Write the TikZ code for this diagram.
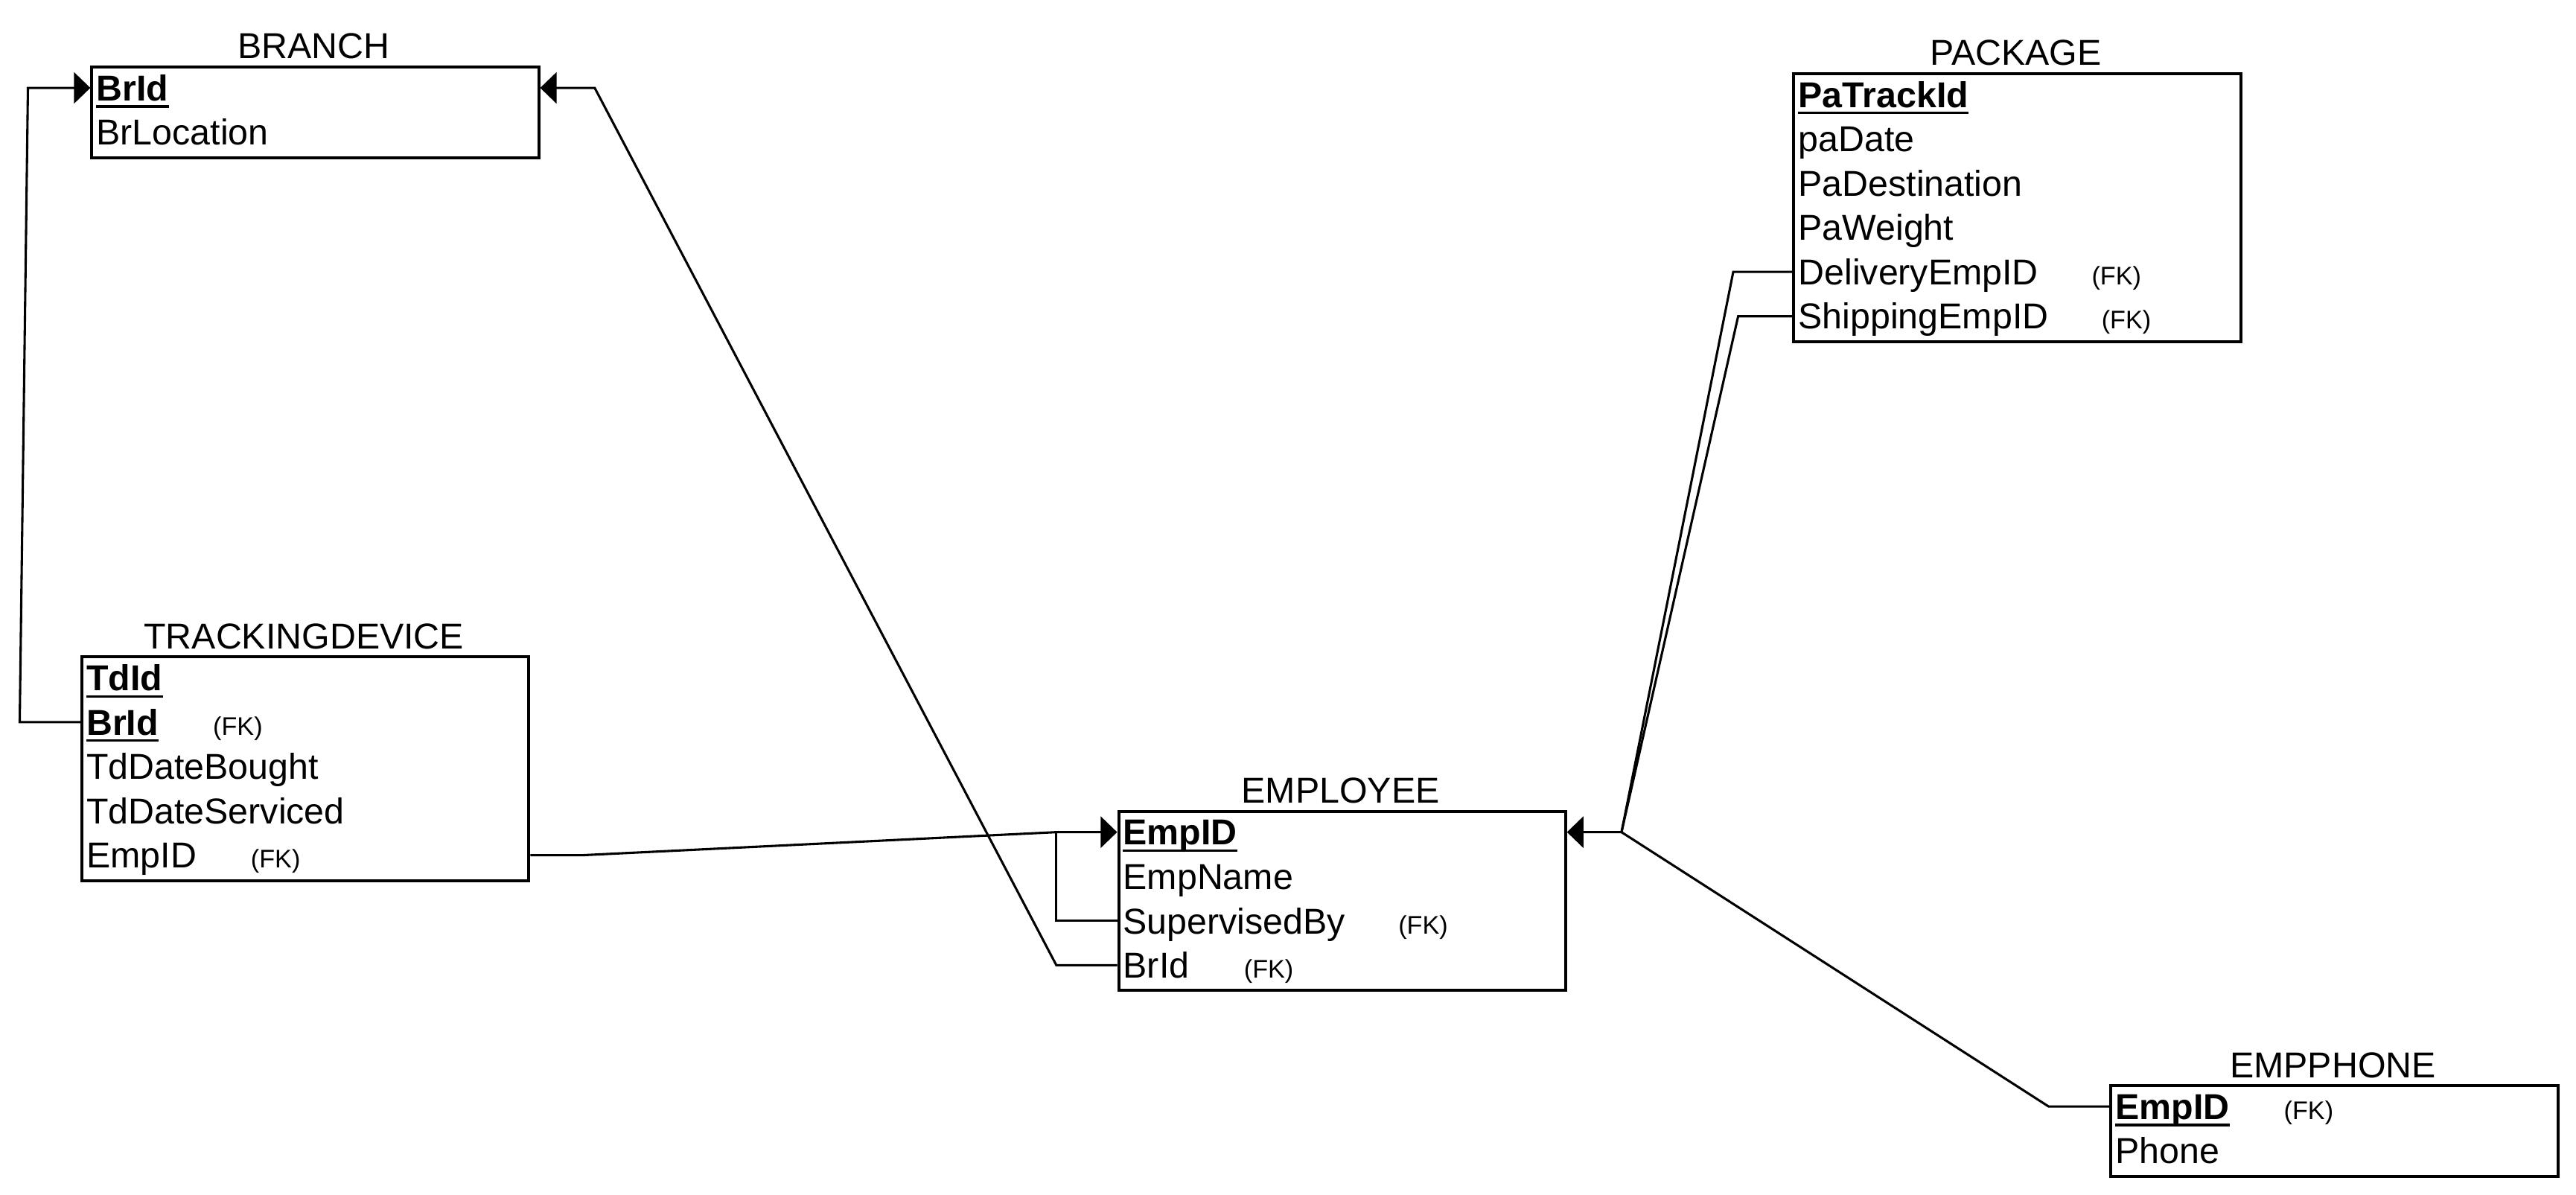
\documentclass[tikz,border=0pt]{standalone}
\usepackage{fontspec}
\setmainfont{Liberation Sans}
\usetikzlibrary{arrows.meta}
\newcommand{\rowfont}{\fontsize{21.9}{26}\selectfont}
\newcommand{\fkfont}{\fontsize{15.5}{19}\selectfont}
\tikzset{
  tbl/.style={draw=black, line width=1.8pt, rectangle, inner sep=0pt, anchor=north west},
  rowtxt/.style={anchor=west, inner sep=0pt, font=\rowfont, text height=15.6pt, text depth=0pt},
  pkey/.style={rowtxt, font=\rowfont\bfseries},
  ttl/.style={anchor=center, inner sep=0pt, font=\rowfont, text height=15.6pt, text depth=0pt},
  fk/.style={anchor=base west, inner sep=0pt, font=\fkfont},
  ul/.style={line width=1.5pt},
  conn/.style={draw=black, line width=1.4pt, line join=miter},
  arr/.style={-{Triangle[length=10pt,width=19pt]}}
}
\begin{document}
\begin{tikzpicture}[x=1pt,y=-1pt]
\path[fill=white] (0,0) rectangle (1568,727);
\useasboundingbox (0,0) rectangle (1568,727);

% BRANCH
\node[tbl, minimum width=272pt, minimum height=55pt] (branch) at (55,40) {};
\node[ttl] (branch-t) at (191,28) {BRANCH};
\node[pkey] (br-id) at (58.5,53.5) {BrId};
\node[rowtxt] (br-loc) at (58.5,80.5) {BrLocation};

% PACKAGE
\node[tbl, minimum width=272pt, minimum height=163pt] (pkg) at (1091,44) {};
\node[ttl] (pkg-t) at (1227,32) {PACKAGE};
\node[pkey] (pa-id) at (1094.5,57.5) {PaTrackId};
\node[rowtxt] (pa-date) at (1094.5,84.5) {paDate};
\node[rowtxt] (pa-dest) at (1094.5,111.5) {PaDestination};
\node[rowtxt] (pa-wt) at (1094.5,138.5) {PaWeight};
\node[rowtxt] (pa-del) at (1094.5,165.5) {DeliveryEmpID};
\node[rowtxt] (pa-ship) at (1094.5,192.5) {ShippingEmpID};
\node[fk] (pa-del-fk) at (1273,0 |- pa-del.base) {(FK)};
\node[fk] (pa-ship-fk) at (1279,0 |- pa-ship.base) {(FK)};

% TRACKINGDEVICE
\node[tbl, minimum width=272pt, minimum height=136pt] (td) at (49,399) {};
\node[ttl] (td-t) at (185,387) {TRACKINGDEVICE};
\node[pkey] (td-id) at (52.5,412.5) {TdId};
\node[pkey] (td-br) at (52.5,439.5) {BrId};
\node[rowtxt] (td-bought) at (52.5,466.5) {TdDateBought};
\node[rowtxt] (td-serv) at (52.5,493.5) {TdDateServiced};
\node[rowtxt] (td-emp) at (52.5,520.5) {EmpID};
\node[fk] (td-br-fk) at (129.5,0 |- td-br.base) {(FK)};
\node[fk] (td-emp-fk) at (152.5,0 |- td-emp.base) {(FK)};

% EMPLOYEE
\node[tbl, minimum width=272pt, minimum height=109pt] (emp) at (680,493) {};
\node[ttl] (emp-t) at (816,481) {EMPLOYEE};
\node[pkey] (emp-id) at (683.5,506.5) {EmpID};
\node[rowtxt] (emp-name) at (683.5,533.5) {EmpName};
\node[rowtxt] (emp-sup) at (683.5,560.5) {SupervisedBy};
\node[rowtxt] (emp-br) at (683.5,587.5) {BrId};
\node[fk] (emp-sup-fk) at (851,0 |- emp-sup.base) {(FK)};
\node[fk] (emp-br-fk) at (757,0 |- emp-br.base) {(FK)};

% EMPPHONE
\node[tbl, minimum width=272pt, minimum height=55pt] (ph) at (1284,660) {};
\node[ttl] (ph-t) at (1420,648) {EMPPHONE};
\node[pkey] (ph-id) at (1287.5,673.5) {EmpID};
\node[rowtxt] (ph-phone) at (1287.5,700.5) {Phone};
\node[fk] (ph-id-fk) at (1390,0 |- ph-id.base) {(FK)};

% underlines of key attributes
\foreach \n in {br-id,pa-id,td-id,td-br,emp-id,ph-id}
  \draw[ul] ([yshift=-3.5pt]\n.base west) -- ([yshift=-3.5pt]\n.base east);

% bend points
\coordinate (b1) at (12,439.5);
\coordinate (b2) at (17,53.5);
\coordinate (b3) at (643,587.5);
\coordinate (b4) at (362,53.5);
\coordinate (b5) at (355,520.5);
\coordinate (b6) at (643,506.5);
\coordinate (b7) at (643,560.5);
\coordinate (b8) at (1055,165.5);
\coordinate (b9) at (987,506.5);
\coordinate (b10) at (1058,192.5);
\coordinate (b11) at (1247,673.5);

% connectors
\draw[conn, arr] (td.west |- td-br) -- (b1) -- (b2) -- (branch.west |- br-id);
\draw[conn, arr] (emp.west |- emp-br) -- (b3) -- (b4) -- (branch.east |- br-id);
\draw[conn, arr] (td.east |- td-emp) -- (b5) -- (b6) -- (emp.west |- emp-id);
\draw[conn] (emp.west |- emp-sup) -- (b7) -- (b6);
\draw[conn, arr] (pkg.west |- pa-del) -- (b8) -- (b9) -- (emp.east |- emp-id);
\draw[conn] (pkg.west |- pa-ship) -- (b10) -- (b9);
\draw[conn] (ph.west |- ph-id) -- (b11) -- (b9);
\end{tikzpicture}
\end{document}
